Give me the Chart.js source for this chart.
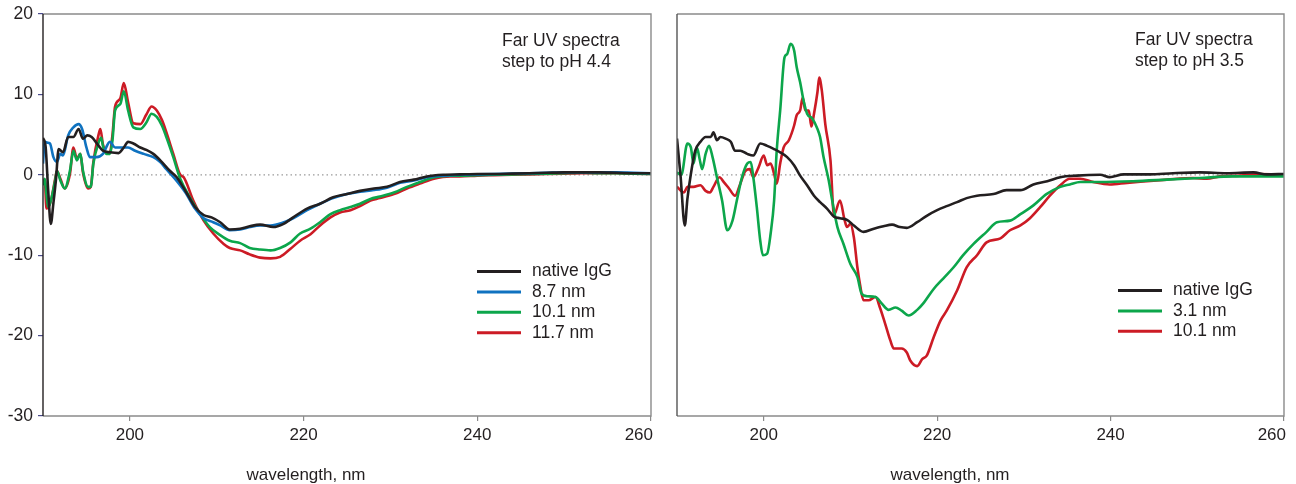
<!DOCTYPE html>
<html>
<head>
<meta charset="utf-8">
<script src="https://cdn.jsdelivr.net/npm/chart.js@4"></script>
<style>
  html, body { margin: 0; padding: 0; background: #fff; }
  body { width: 1296px; height: 484px; position: relative; overflow: hidden; }
  canvas { position: absolute; top: 0; }
  #left { left: 0; }
  #right { left: 660px; }
</style>
</head>
<body>
<canvas id="left" width="680" height="484"></canvas>
<canvas id="right" width="636" height="484"></canvas>
<script>
// Axis ticks
const xTicks = [200, 220, 240, 260];
const yTicks = [-30, -20, -10, 0, 10, 20];

// Left panel: step to pH 4.4
const nativeL_nm = [190.0, 190.3, 190.6, 190.9, 191.2, 191.5, 191.8, 192.3, 192.9, 193.5, 194.1, 194.6, 195.1, 195.6, 196.2, 196.9, 197.7, 198.7, 199.3, 199.8, 200.4, 201.2, 201.9, 202.7, 203.5, 204.6, 205.4, 206.5, 207.5, 208.5, 209.4, 210.4, 211.5, 212.7, 213.8, 215.0, 216.5, 217.7, 218.8, 220.4, 221.9, 223.4, 225.0, 226.5, 228.1, 229.6, 231.1, 232.7, 234.2, 236.1, 238, 240, 242, 244, 246, 248, 250, 252, 254, 256, 258, 260];
const nativeL_cd = [4.6, 3.5, -2.0, -6.1, -3.5, -0.5, 3.2, 2.8, 4.7, 4.7, 5.7, 4.5, 4.9, 4.7, 3.9, 3.0, 2.8, 2.7, 3.4, 4.1, 3.9, 3.4, 3.1, 2.6, 1.8, 0.5, -0.3, -2.2, -4.0, -5.0, -5.3, -5.9, -6.8, -6.7, -6.4, -6.2, -6.5, -6.1, -5.3, -4.2, -3.6, -2.8, -2.4, -2.0, -1.7, -1.5, -0.9, -0.6, -0.2, 0.0, 0.05, 0.1, 0.1, 0.15, 0.2, 0.25, 0.3, 0.3, 0.3, 0.25, 0.2, 0.2];

const nm87_nm = [190.0, 190.2, 190.5, 190.8, 191.2, 191.6, 192.0, 192.3, 192.9, 193.5, 194.1, 194.5, 195.0, 195.4, 196.2, 196.9, 197.7, 198.3, 199.1, 199.8, 200.6, 201.6, 202.7, 203.5, 204.2, 205.2, 206.4, 207.5, 208.5, 209.6, 210.4, 211.5, 212.7, 213.8, 215.0, 216.2, 217.5, 218.8, 220.4, 221.9, 223.4, 225.0, 226.5, 228.1, 229.6, 231.1, 232.7, 234.2, 236.1, 238, 240, 242, 244, 246, 248, 250, 252, 254, 256, 258, 260];
const nm87_cd = [1.4, 4.1, 4.0, 3.9, 2.2, 1.6, 2.6, 2.4, 4.9, 5.9, 6.3, 5.7, 3.4, 2.2, 2.2, 2.6, 4.1, 3.4, 3.4, 3.4, 3.0, 2.6, 2.2, 1.6, 0.7, -0.5, -2.2, -4.2, -5.4, -5.9, -6.3, -6.9, -6.8, -6.5, -6.3, -6.3, -6.0, -5.4, -4.4, -3.6, -2.9, -2.4, -2.1, -1.9, -1.6, -1.0, -0.7, -0.3, -0.1, 0.0, 0.05, 0.1, 0.15, 0.2, 0.25, 0.3, 0.3, 0.3, 0.3, 0.25, 0.2];

const nm101L_nm = [190.0, 190.2, 190.4, 190.6, 190.8, 191.0, 191.4, 191.6, 192.0, 192.5, 193.1, 193.5, 193.9, 194.3, 194.6, 195.2, 195.5, 195.8, 196.4, 196.7, 196.9, 197.3, 197.7, 198.0, 198.3, 198.9, 199.3, 199.8, 200.4, 201.2, 201.9, 202.5, 203.1, 203.7, 204.2, 205.0, 205.8, 206.9, 208.1, 209.2, 210.4, 211.5, 212.7, 213.8, 215.0, 216.2, 217.3, 218.5, 219.6, 220.8, 221.9, 223.1, 224.2, 225.4, 226.5, 227.7, 228.8, 230.4, 231.9, 233.4, 235.0, 236.9, 238, 240, 242, 244, 246, 248, 250, 252, 254, 256, 258, 260];
const nm101L_cd = [-1.3, -0.5, -2.5, -4.0, -3.6, -2.8, -0.7, 0.5, -0.7, -1.7, 0.5, 3.0, 1.8, 2.6, 0.5, -1.5, -1.5, 1.4, 4.0, 4.6, 3.6, 2.6, 2.6, 4.3, 8.0, 8.8, 10.4, 8.0, 5.9, 5.7, 6.5, 7.6, 7.2, 6.1, 4.7, 2.2, -0.5, -2.8, -4.9, -6.5, -7.5, -8.2, -8.5, -9.1, -9.3, -9.4, -9.1, -8.4, -7.3, -6.7, -5.9, -4.9, -4.4, -4.0, -3.6, -3.0, -2.7, -2.2, -1.5, -0.9, -0.3, -0.1, -0.1, -0.05, 0.0, 0.05, 0.1, 0.15, 0.2, 0.25, 0.2, 0.2, 0.15, 0.1];

const nm117_nm = [190.0, 190.2, 190.4, 190.8, 191.0, 191.4, 191.6, 192.0, 192.5, 193.1, 193.5, 193.9, 194.3, 194.6, 195.2, 195.5, 195.8, 196.4, 196.6, 196.9, 197.3, 197.7, 198.0, 198.3, 198.9, 199.3, 199.8, 200.4, 201.2, 201.9, 202.5, 203.1, 203.7, 204.2, 205.0, 205.8, 206.2, 207.3, 208.5, 209.6, 210.8, 211.5, 212.7, 213.8, 215.0, 216.2, 217.3, 218.5, 219.6, 220.8, 221.9, 223.1, 224.2, 225.4, 226.5, 227.7, 228.8, 230.4, 231.9, 233.4, 235.0, 236.9, 238, 240, 242, 244, 246, 248, 250, 252, 254, 256, 258, 260];
const nm117_cd = [-1.0, -0.6, -4.2, -3.6, -2.8, -0.5, 0.5, -0.5, -1.7, 0.1, 3.4, 2.0, 2.6, 0.3, -1.7, -1.5, 1.6, 5.0, 5.7, 3.8, 2.8, 2.8, 5.0, 8.5, 9.5, 11.4, 9.0, 6.4, 6.3, 7.5, 8.5, 8.0, 6.8, 5.3, 2.6, 0.0, -0.3, -3.2, -5.7, -7.3, -8.6, -9.1, -9.4, -9.9, -10.3, -10.4, -10.2, -9.2, -8.2, -7.4, -6.3, -5.3, -4.7, -4.4, -3.9, -3.2, -2.9, -2.4, -1.7, -1.1, -0.5, -0.2, -0.2, -0.1, -0.05, 0.0, 0.05, 0.1, 0.15, 0.2, 0.2, 0.2, 0.15, 0.1];

// Right panel: step to pH 3.5
const nativeR_nm = [190.0, 190.4, 190.9, 191.2, 191.6, 192.1, 192.7, 193.3, 193.9, 194.2, 194.6, 195.0, 195.6, 196.2, 196.7, 197.3, 198.1, 198.8, 199.6, 200.4, 201.2, 201.9, 202.7, 203.5, 204.2, 205.0, 205.8, 206.5, 207.3, 208.1, 208.8, 209.6, 210.4, 211.5, 212.7, 213.8, 214.8, 215.7, 216.5, 217.7, 218.8, 220.0, 221.1, 222.3, 223.4, 224.6, 226.5, 228.0, 229.6, 231.1, 232.7, 234.2, 236.1, 238.8, 239.9, 241.5, 244.5, 247.2, 250.3, 253.4, 256.5, 258.0, 260];
const nativeR_cd = [4.5, 0.0, -6.3, -3.0, 0.1, 3.0, 4.1, 4.7, 4.7, 5.3, 4.3, 4.7, 4.5, 4.1, 3.0, 3.0, 2.6, 2.4, 3.9, 3.6, 3.2, 2.8, 2.2, 1.2, -0.1, -1.3, -2.6, -3.4, -4.2, -5.2, -5.4, -5.6, -6.3, -7.1, -6.7, -6.4, -6.2, -6.5, -6.6, -5.9, -5.1, -4.4, -3.9, -3.4, -2.9, -2.6, -2.4, -1.9, -1.9, -1.2, -0.8, -0.3, -0.1, 0.0, -0.3, 0.05, 0.05, 0.2, 0.3, 0.2, 0.3, 0.05, 0.1];

const nm31_nm = [190.0, 190.5, 191.2, 191.6, 191.9, 192.3, 192.6, 192.9, 193.3, 193.7, 194.1, 194.6, 195.2, 195.8, 196.4, 196.9, 197.5, 198.1, 198.5, 198.8, 199.2, 199.6, 199.9, 200.4, 200.8, 201.2, 201.5, 201.9, 202.4, 202.7, 203.1, 203.5, 203.8, 204.2, 204.6, 205.0, 205.6, 206.2, 206.5, 206.9, 207.5, 207.9, 208.5, 209.2, 210.0, 210.8, 211.3, 211.9, 212.9, 213.6, 214.4, 215.2, 215.9, 216.7, 217.7, 218.4, 219.6, 220.7, 221.9, 223.0, 224.2, 225.7, 226.9, 228.4, 229.6, 231.1, 232.6, 234.2, 235.3, 236.5, 238.8, 242.6, 246.5, 250.3, 254.1, 260];
const nm31_cd = [0.3, 0.0, 3.9, 3.4, 1.4, 3.4, 2.0, 0.7, 2.6, 3.6, 2.2, -0.3, -3.2, -6.9, -5.7, -3.2, -0.3, 1.4, 1.6, -0.3, -4.0, -8.2, -10.0, -9.8, -7.3, -3.2, 3.0, 8.0, 14.6, 15.0, 16.3, 15.5, 13.4, 11.5, 9.2, 7.6, 7.0, 5.7, 4.7, 2.2, -0.7, -3.2, -6.5, -8.6, -11.1, -12.7, -14.8, -15.1, -15.2, -16.0, -16.8, -16.5, -16.9, -17.5, -16.8, -16.0, -14.2, -12.9, -11.5, -10.0, -8.6, -7.1, -5.9, -5.7, -4.9, -3.8, -2.4, -1.5, -1.2, -0.9, -0.9, -0.8, -0.6, -0.4, -0.2, -0.2];

const nm101R_nm = [190.0, 190.8, 191.2, 191.9, 192.7, 193.3, 193.8, 194.2, 194.9, 195.4, 196.0, 196.7, 197.3, 197.9, 198.4, 198.8, 199.4, 200.0, 200.4, 200.8, 201.2, 201.5, 201.9, 202.3, 202.9, 203.5, 203.8, 204.2, 204.5, 204.8, 205.2, 205.5, 205.8, 206.2, 206.4, 206.7, 207.1, 207.7, 208.1, 208.8, 209.3, 209.6, 210.0, 210.4, 210.8, 211.1, 211.5, 212.1, 212.9, 213.4, 214.0, 214.6, 215.0, 215.9, 216.5, 216.9, 217.7, 218.3, 218.8, 219.6, 220.4, 221.1, 222.3, 223.4, 224.6, 225.7, 227.3, 228.4, 229.6, 230.7, 231.9, 233.0, 234.2, 235.3, 236.5, 238.0, 239.9, 241.9, 244.2, 246.5, 249.5, 251.1, 252.6, 254.9, 257.2, 260];
const nm101R_cd = [-1.5, -2.2, -1.5, -1.5, -1.3, -2.0, -2.2, -1.5, -0.3, -0.9, -1.7, -2.6, -1.1, 0.5, 0.7, -0.3, 0.9, 2.4, 1.2, 1.4, 0.1, -1.1, 1.4, 3.4, 4.3, 6.1, 7.4, 8.0, 9.6, 8.0, 8.0, 6.0, 7.6, 10.3, 12.1, 10.5, 6.3, 1.8, -5.0, -3.2, -5.5, -6.5, -6.1, -7.8, -11.5, -13.6, -15.6, -15.6, -15.2, -16.5, -18.5, -20.6, -21.6, -21.6, -22.1, -23.1, -23.8, -22.9, -22.5, -20.2, -18.1, -16.9, -14.4, -11.5, -10.0, -8.4, -7.9, -6.9, -6.3, -5.4, -4.0, -2.6, -1.3, -0.5, -0.5, -0.9, -1.2, -1.0, -0.8, -0.6, -0.4, -0.5, -0.2, -0.1, 0.1, 0.0];

const colors = {
    black: '#231f20',
    blue: '#0f72c0',
    green: '#0ca64b',
    red: '#cc1b25',
    text: '#231f20',
    frame: '#8a8a8a'
};
const FONT = '"Liberation Sans", Arial, sans-serif';

function zip(xs, ys) {
    return xs.map((x, i) => ({ x: x, y: ys[i] }));
}

function series(label, xs, ys, color) {
    return {
        label: label,
        data: zip(xs, ys),
        borderColor: color,
        backgroundColor: color,
        borderWidth: 2.6,
        pointRadius: 0,
        cubicInterpolationMode: 'monotone',
        fill: false
    };
}

// Draws zero line, frame, x labels, notes, legend and axis title
const panelDecor = {
    id: 'panelDecor',
    beforeDatasetsDraw(chart) {
        const { ctx, chartArea: a } = chart;
        const y0 = chart.scales.y.getPixelForValue(0);
        ctx.save();
        ctx.strokeStyle = '#9a9a9a';
        ctx.lineWidth = 1.2;
        ctx.setLineDash([1.5, 3]);
        ctx.beginPath();
        ctx.moveTo(a.left, y0);
        ctx.lineTo(a.right, y0);
        ctx.stroke();
        ctx.restore();
    },
    afterDraw(chart, args, opts) {
        const { ctx, chartArea: a } = chart;
        ctx.save();
        // frame
        ctx.lineWidth = 1.4;
        ctx.strokeStyle = colors.frame;
        ctx.beginPath();
        ctx.moveTo(a.left, a.top);
        ctx.lineTo(a.right, a.top);
        ctx.lineTo(a.right, a.bottom);
        ctx.lineTo(a.left, a.bottom);
        ctx.stroke();
        ctx.strokeStyle = opts.leftAxisColor;
        ctx.beginPath();
        ctx.moveTo(a.left, a.top);
        ctx.lineTo(a.left, a.bottom);
        ctx.stroke();

        ctx.fillStyle = colors.text;
        ctx.textBaseline = 'middle';

        // x tick labels (last one sits inside the frame)
        ctx.font = '17px ' + FONT;
        xTicks.forEach((v, i) => {
            const px = chart.scales.x.getPixelForValue(v);
            const last = i === xTicks.length - 1;
            ctx.textAlign = last ? 'right' : 'center';
            ctx.fillText(String(v), last ? px + 2 : px, 435);
        });

        ctx.textAlign = 'left';
        ctx.font = '17.5px ' + FONT;
        // notes
        opts.notes.forEach((t, i) => ctx.fillText(t, opts.noteX, opts.noteY + i * 21));
        // legend
        chart.data.datasets.forEach((ds, i) => {
            const y = opts.legendY + i * 20.4;
            ctx.strokeStyle = ds.borderColor;
            ctx.lineWidth = 3;
            ctx.beginPath();
            ctx.moveTo(opts.legendX, y);
            ctx.lineTo(opts.legendX + 44, y);
            ctx.stroke();
            ctx.fillText(ds.label, opts.legendX + 55, y);
        });
        // axis title
        ctx.textAlign = 'center';
        ctx.font = '17px ' + FONT;
        ctx.fillText('wavelength, nm', opts.titleX, 475);
        ctx.restore();
    }
};

function makePanel(id, datasets, decor, showY, padding) {
    return new Chart(document.getElementById(id), {
        type: 'line',
        data: { datasets: datasets },
        options: {
            responsive: false,
            animation: false,
            events: [],
            layout: { padding: padding },
            plugins: {
                legend: { display: false },
                tooltip: { enabled: false },
                panelDecor: decor
            },
            scales: {
                x: {
                    type: 'linear',
                    min: 190,
                    max: 260,
                    afterBuildTicks: s => { s.ticks = xTicks.map(v => ({ value: v })); },
                    afterFit: s => { s.height = 68; s.paddingLeft = 0; s.paddingRight = 0; },
                    border: { display: false },
                    grid: { drawOnChartArea: false, drawTicks: true, tickLength: 5, color: colors.frame, lineWidth: 1.2 },
                    ticks: { color: 'rgba(0,0,0,0)', padding: 4, maxRotation: 0, font: { family: FONT, size: 17 } }
                },
                y: {
                    display: showY,
                    min: -30,
                    max: 20,
                    afterBuildTicks: s => { s.ticks = yTicks.map(v => ({ value: v })); },
                    afterFit: s => { s.width = showY ? 43 : 0; s.paddingTop = 0; s.paddingBottom = 0; },
                    border: { display: false },
                    grid: { drawOnChartArea: false, drawTicks: true, tickLength: 5, color: '#4b4b8c', lineWidth: 1.2 },
                    ticks: { color: colors.text, padding: 5, font: { family: FONT, size: 17.5 } }
                }
            }
        },
        plugins: [panelDecor]
    });
}

makePanel('left', [
    series('native IgG', nativeL_nm, nativeL_cd, colors.black),
    series('8.7 nm', nm87_nm, nm87_cd, colors.blue),
    series('10.1 nm', nm101L_nm, nm101L_cd, colors.green),
    series('11.7 nm', nm117_nm, nm117_cd, colors.red)
], {
    leftAxisColor: '#231f20',
    notes: ['Far UV spectra', 'step to pH 4.4'],
    noteX: 502, noteY: 41,
    legendX: 477, legendY: 271.5,
    titleX: 306
}, true, { left: 0, top: 14, right: 29, bottom: 0 });

makePanel('right', [
    series('native IgG', nativeR_nm, nativeR_cd, colors.black),
    series('3.1 nm', nm31_nm, nm31_cd, colors.green),
    series('10.1 nm', nm101R_nm, nm101R_cd, colors.red)
], {
    leftAxisColor: '#555555',
    notes: ['Far UV spectra', 'step to pH 3.5'],
    noteX: 475, noteY: 40,
    legendX: 458, legendY: 290.5,
    titleX: 290
}, false, { left: 17, top: 14, right: 12, bottom: 0 });
</script>
</body>
</html>
